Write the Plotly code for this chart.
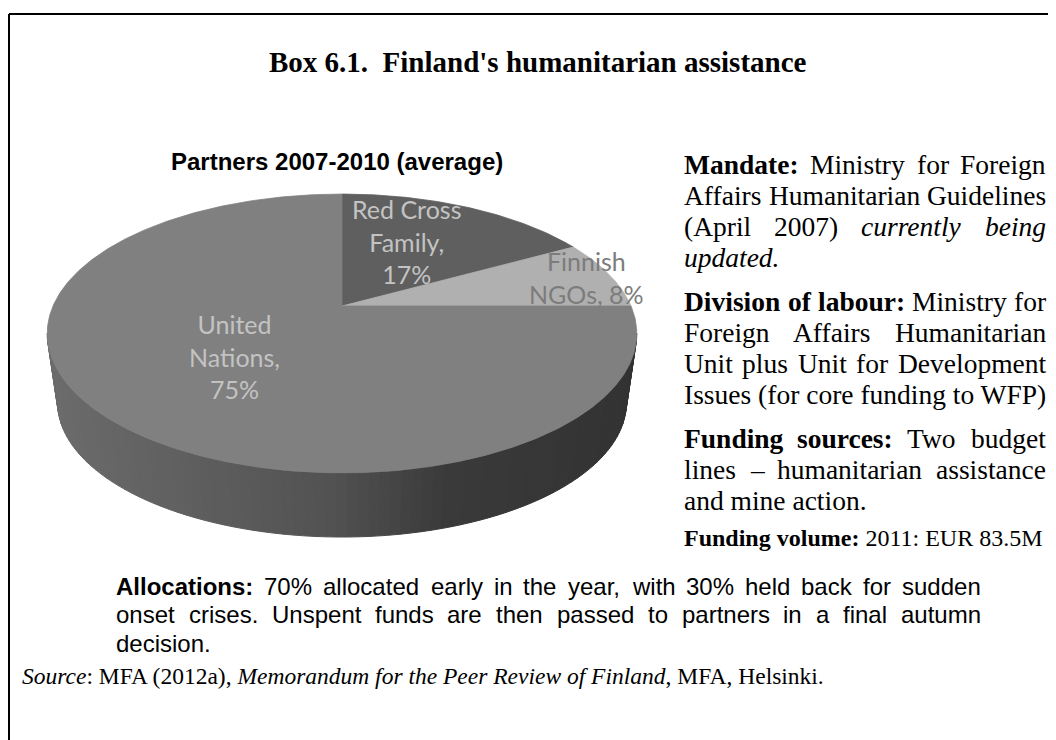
import numpy as np
import plotly.graph_objects as go

# ---------------- data ----------------
categories = ["Red Cross Family", "Finnish NGOs", "United Nations"]   # clockwise from 12 o'clock
shares = [17, 8, 75]
label_lines = [["Red Cross", "Family,", "17%"], ["Finnish", "NGOs, 8%"], ["United", "Nations,", "75%"]]

chart_title = "Partners 2007-2010 (average)"
box_title = "Box 6.1.  Finland's humanitarian assistance"

# ---------------- styles ----------------
slice_colors = ["#5f5f5f", "#b0b0b0", "#808080"]
label_colors = ["#c3c3c3", "#7c7c7c", "#c3c3c3"]
label_radius = [0.54, 0.92, 0.5]
label_shift = [(-8, -7), (-2, 1), (2, 0)]

OFF = 8                         # page offset of the plot div
W, H = 1056, 740
CX, CY = 342.0, 306.0          # apex of the top face
A, B, K = 289.0, 134.0, 0.197  # half-width, depth, perspective
DEPTH, SHRINK = 70.0, 0.965

def project(theta_deg, r=1.0, level=0):
    t = np.radians(theta_deg)
    c, s = np.cos(t) * r, np.sin(t) * r
    den = 1 + K * s
    xp = A * c / den
    yp = -B * s / den
    if level == 0:
        return CX + xp, CY + yp
    return CX + SHRINK * xp, CY + DEPTH + SHRINK * yp

fig = go.Figure()

# ---- side wall (front half, shaded gradient) ----
def side_gray(x):
    xs = [40, 330, 450, 640]
    vs = [0x6c, 0x52, 0x3a, 0x32]
    v = int(round(np.interp(x, xs, vs)))
    return f"rgb({v},{v},{v})"

tl = np.degrees(np.arcsin(K))
t_start, t_end = 180 + tl, 360 - tl
edges = np.linspace(t_start, t_end, 90)
for t0, t1 in zip(edges[:-1], edges[1:]):
    ts = np.linspace(t0, t1, 4)
    top = [project(t) for t in ts]
    bot = [project(t, level=1) for t in ts[::-1]]
    pts = top + bot + [top[0]]
    xm = np.mean([p[0] for p in top])
    col = side_gray(xm)
    fig.add_trace(go.Scatter(x=[p[0] for p in pts], y=[p[1] for p in pts],
                             mode="lines", fill="toself", fillcolor=col,
                             line=dict(color=col, width=1), hoverinfo="skip",
                             showlegend=False))

# ---- top face slices ----
start = 90.0
mids = []
for cat, sh, col in zip(categories, shares, slice_colors):
    sweep = 360.0 * sh / sum(shares)
    ts = np.linspace(start, start - sweep, max(8, int(sweep * 2)))
    arc = [project(t) for t in ts]
    xs = [CX] + [p[0] for p in arc] + [CX]
    ys = [CY] + [p[1] for p in arc] + [CY]
    fig.add_trace(go.Scatter(x=xs, y=ys, mode="lines", fill="toself", fillcolor=col,
                             line=dict(color=col, width=0.8), name=cat,
                             hoverinfo="name", showlegend=False))
    mids.append(start - sweep / 2)
    start -= sweep

annotations = []
for lines, mid, rr, sh, lc in zip(label_lines, mids, label_radius, label_shift, label_colors):
    lx, ly = project(mid, r=rr)
    annotations.append(dict(x=lx + sh[0], y=ly + sh[1], xref="x", yref="y", text="<br>".join(lines),
                            showarrow=False, xanchor="center", yanchor="middle",
                            font=dict(family="Lato", size=25, color=lc)))

# ---------------- text helpers ----------------
TIMES_R = {' ': 250, '(': 333, ')': 333, ',': 250, '-': 333, '.': 250, ':': 278, "'": 180,
           '0': 500, '1': 500, '2': 500, '3': 500, '4': 500, '5': 500, '6': 500, '7': 500, '8': 500, '9': 500,
           'A': 722, 'D': 722, 'E': 611, 'F': 556, 'G': 722, 'H': 722, 'I': 333, 'M': 889, 'P': 556,
           'R': 667, 'T': 611, 'U': 722, 'W': 944,
           'a': 444, 'b': 500, 'c': 444, 'd': 500, 'e': 444, 'f': 333, 'g': 500, 'h': 500, 'i': 278,
           'k': 500, 'l': 278, 'm': 778, 'n': 500, 'o': 500, 'p': 500, 'r': 333, 's': 389, 't': 278,
           'u': 500, 'v': 500, 'w': 722, 'y': 500, '–': 500}
TIMES_B = dict(TIMES_R, **{':': 333, 'M': 944, 'D': 722, 'F': 611, 'a': 500, 'b': 556, 'd': 556,
                           'h': 556, 'n': 556, 'r': 444, 'u': 556, 't': 333, 'm': 833, "'": 278})
TIMES_I = dict(TIMES_R, **{'a': 500, 'r': 389, 'y': 444})
ARIAL_R = {' ': 278, '%': 889, ',': 278, '.': 278, ':': 278,
           '0': 556, '1': 556, '2': 556, '3': 556, '4': 556, '5': 556, '6': 556, '7': 556, '8': 556, '9': 556,
           'U': 722, 'A': 667,
           'a': 556, 'b': 556, 'c': 500, 'd': 556, 'e': 556, 'f': 278, 'g': 556, 'h': 556, 'i': 222,
           'k': 500, 'l': 222, 'm': 833, 'n': 556, 'o': 556, 'p': 556, 'r': 333, 's': 500, 't': 278,
           'u': 556, 'v': 500, 'w': 722, 'y': 500}
ARIAL_B = dict(ARIAL_R, **{'A': 722, 'l': 278, 'o': 611, 'c': 556, 't': 333, 'i': 278, 'n': 611,
                           's': 556, ':': 333})

SERIF = "Liberation Serif, Times New Roman, serif"
SANS = "Liberation Sans, Arial, sans-serif"

def width(word, style, fam, size):
    if fam == "serif":
        tab = {"r": TIMES_R, "b": TIMES_B, "i": TIMES_I}[style]
        d = 500
    else:
        tab = {"r": ARIAL_R, "b": ARIAL_B, "i": ARIAL_R}[style]
        d = 556
    return sum(tab.get(ch, d) for ch in word) / 1000.0 * size

def wrap(word, style):
    if style == "b":
        return f"<b>{word}</b>"
    if style == "i":
        return f"<i>{word}</i>"
    return word

def add_line(words, x0, x1, y, size, fam, justify):
    family = SERIF if fam == "serif" else SANS
    if not justify or len(words) == 1:
        txt = " ".join(wrap(w, s) for w, s in words)
        annotations.append(dict(x=x0, y=y, xref="x", yref="y", text=txt, showarrow=False,
                                xanchor="left", yanchor="middle", borderpad=0,
                                font=dict(family=family, size=size, color="#000000")))
        return
    ws = [width(w, s, fam, size) for w, s in words]
    gap = (x1 - x0 - sum(ws)) / (len(words) - 1)
    x = x0
    for (w, s), wd in zip(words, ws):
        annotations.append(dict(x=x, y=y, xref="x", yref="y", text=wrap(w, s), showarrow=False,
                                xanchor="left", yanchor="middle", borderpad=0,
                                font=dict(family=family, size=size, color="#000000")))
        x += wd + gap

def words(text, style="r"):
    return [(w, style) for w in text.split(" ")]

# right column paragraphs: (lines, first y)
right_paragraphs = [
    ([(words("Mandate:", "b") + words("Ministry for Foreign"), True),
      (words("Affairs Humanitarian Guidelines"), True),
      (words("(April 2007)") + words("currently being", "i"), True),
      ([("updated.", "i")], False)], 164),
    ([(words("Division of labour:", "b") + words("Ministry for"), True),
      (words("Foreign Affairs Humanitarian"), True),
      (words("Unit plus Unit for Development"), True),
      ([("Issues (for core funding to WFP)", "r")], False)], 301),
    ([(words("Funding sources:", "b") + words("Two budget"), True),
      (words("lines – humanitarian assistance"), True),
      ([("and mine action.", "r")], False)], 438),
]
RX0, RX1, RSIZE, RLS = 683, 1045, 27.5, 31
for lines, y0 in right_paragraphs:
    for i, (ln, just) in enumerate(lines):
        add_line(ln, RX0, RX1, y0 + i * RLS, RSIZE, "serif", just)

annotations.append(dict(x=RX0, y=538, xref="x", yref="y",
                        text="<b>Funding volume:</b> 2011: EUR 83.5M", showarrow=False,
                        xanchor="left", yanchor="middle", borderpad=0,
                        font=dict(family=SERIF, size=24, color="#000000")))

bottom_lines = [
    (words("Allocations:", "b") + words("70% allocated early in the year, with 30% held back for sudden"), True),
    (words("onset crises. Unspent funds are then passed to partners in a final autumn"), True),
    ([("decision.", "r")], False),
]
BX0, BX1, BSIZE, BLS = 115, 980, 24, 28.5
for i, (ln, just) in enumerate(bottom_lines):
    add_line(ln, BX0, BX1, 586 + i * BLS, BSIZE, "sans", just)

annotations.append(dict(x=21, y=676, xref="x", yref="y",
                        text="<i>Source</i>: MFA (2012a), <i>Memorandum for the Peer Review of Finland</i>, MFA, Helsinki.",
                        showarrow=False, xanchor="left", yanchor="middle", borderpad=0,
                        font=dict(family=SERIF, size=23.5, color="#000000")))

# titles
annotations.append(dict(x=538, y=62, xref="x", yref="y", text=f"<b>{box_title}</b>",
                        showarrow=False, xanchor="center", yanchor="middle",
                        font=dict(family=SERIF, size=29, color="#000000")))
annotations.append(dict(x=337, y=161, xref="x", yref="y", text=f"<b>{chart_title}</b>",
                        showarrow=False, xanchor="center", yanchor="middle",
                        font=dict(family=SANS, size=24, color="#000000")))

# box frame (top and left edges are visible in the reference)
shapes = [
    dict(type="line", x0=9, x1=W, y0=14, y1=14, xref="x", yref="y", line=dict(color="black", width=2)),
    dict(type="line", x0=9, x1=9, y0=14, y1=H, xref="x", yref="y", line=dict(color="black", width=2)),
]

fig.update_layout(
    width=W - OFF, height=H - OFF, margin=dict(l=0, r=0, t=0, b=0),
    paper_bgcolor="white", plot_bgcolor="white",
    xaxis=dict(range=[OFF, W], visible=False, fixedrange=True),
    yaxis=dict(range=[H, OFF], visible=False, fixedrange=True),
    annotations=annotations, shapes=shapes, showlegend=False,
)
fig.write_html("out.html")
